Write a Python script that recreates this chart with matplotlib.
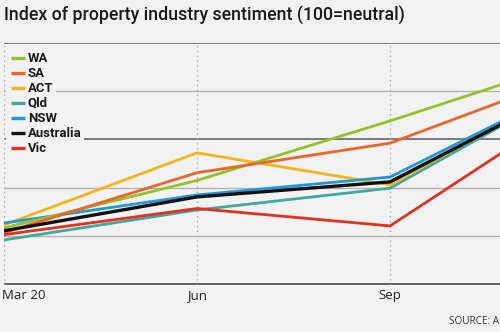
import matplotlib
matplotlib.use("Agg")
import matplotlib.pyplot as plt
import matplotlib.transforms as mtransforms
from matplotlib.lines import Line2D
from matplotlib.patches import Rectangle

# ---- data ----
periods = ["Mar 20", "Jun", "Sep", "Dec"]
series_names = ["WA", "SA", "ACT", "Qld", "NSW", "Australia", "Vic"]
wa = [81.7, 91.5, 103.8, 116.8]
sa = [80.7, 93.1, 99.2, 114.1]
act = [82.3, 97.2, 90.6, 112.6]
qld = [79.2, 85.4, 89.9, 112.2]
nsw = [82.7, 88.5, 92.2, 112.1]
australia = [81.1, 88.1, 91.2, 111.8]
vic = [80.3, 85.7, 82.1, 108.2]
y_gridlines = [80, 90, 100, 110, 120]

title = "Index of property industry sentiment (100=neutral)"
source = "SOURCE: ANZ/PROPERTY COUNCIL"

values = [wa, sa, act, qld, nsw, australia, vic]
colors = ["#97c12a", "#e9652a", "#f3b51b", "#3fa9a0", "#1e9ad6", "#111111", "#e2321f"]
zorders = [5, 6, 4, 3, 4.5, 8, 7]
widths = [2.0, 2.0, 2.0, 2.0, 2.0, 2.4, 2.0]

BG = "#f2f2f2"
W, H = 500, 332
fig = plt.figure(figsize=(W / 100, H / 100), dpi=100, facecolor=BG)
ax = fig.add_axes([4 / W, 47.5 / H, 1 - 4 / W, (289.5 - 47.5) / H])
ax.set_facecolor(BG)
xs = list(range(len(periods)))

for s in ax.spines.values():
    s.set_visible(False)

for g in y_gridlines:
    dark = g in (100, 120)
    ax.axhline(g, color="#666666" if dark else "#b3b3b3", lw=1.2 if dark else 1.0, zorder=1)
ax.axhline(70, color="#555555", lw=1.3, zorder=1)
for x in xs:
    ax.axvline(x, color="#aaaaaa", lw=1.0, ls=(0, (1, 2.5)), zorder=1)

for name, v, c, z, lw in zip(series_names, values, colors, zorders, widths):
    ax.plot(xs, v, color=c, lw=lw, zorder=z, solid_capstyle="butt", solid_joinstyle="miter")

ax.set_yticks([])
ax.set_xticks(xs)
ax.set_xticklabels(periods, fontfamily="Open Sans", fontsize=9.5, color="#222222")
ax.tick_params(axis="x", length=0, pad=3.5)
ax.set_xlim(0, 2 + 110 / 193)
ax.set_ylim(70, 120)

fig.canvas.draw()
renderer = fig.canvas.get_renderer()
labs = ax.get_xticklabels()
labs[0].set_horizontalalignment("left")
labs[0].set_transform(labs[0].get_transform() + mtransforms.ScaledTranslation(-2 / 100, 0, fig.dpi_scale_trans))


def fit(txt, target_w):
    fig.canvas.draw()
    w = txt.get_window_extent(renderer).width
    txt.set_fontsize(txt.get_fontsize() * target_w / w)


t = fig.text(4 / W, 1 - 15.5 / H, title, fontfamily="Roboto", fontweight="medium", fontsize=12,
             color="#1a1a1a", va="center", ha="left")
fit(t, 399)

# legend
leg_texts = []
for i, (name, c) in enumerate(zip(series_names, colors)):
    yp = 58.3 + i * 14.95
    tt = fig.text(28 / W, 1 - yp / H, name, fontfamily="Roboto", fontweight="bold",
                  fontsize=9.5, color="#1a1a1a", va="center", ha="left", zorder=11)
    leg_texts.append(tt)
fit(leg_texts[5], 54)
fs = leg_texts[5].get_fontsize()
fig.canvas.draw()
for i, (tt, c) in enumerate(zip(leg_texts, colors)):
    tt.set_fontsize(fs)
    yp = 58.3 + i * 14.95
    fig.canvas.draw()
    ext = tt.get_window_extent(renderer)
    fig.patches.append(Rectangle((6 / W, (H - yp - 6.5) / H), (ext.x1 + 2 - 6) / W, 13 / H,
                                 transform=fig.transFigure, facecolor=BG, edgecolor="none", zorder=10))
    fig.lines.append(Line2D([11 / W, 25 / W], [1 - yp / H, 1 - yp / H], transform=fig.transFigure,
                            color=c, lw=2.4, zorder=12, solid_capstyle="butt"))

fig.text(449 / W, 1 - 321 / H, source, fontfamily="Open Sans", fontsize=7.2,
         color="#333333", va="center", ha="left")

fig.savefig("out.png", dpi=100, facecolor=BG)
